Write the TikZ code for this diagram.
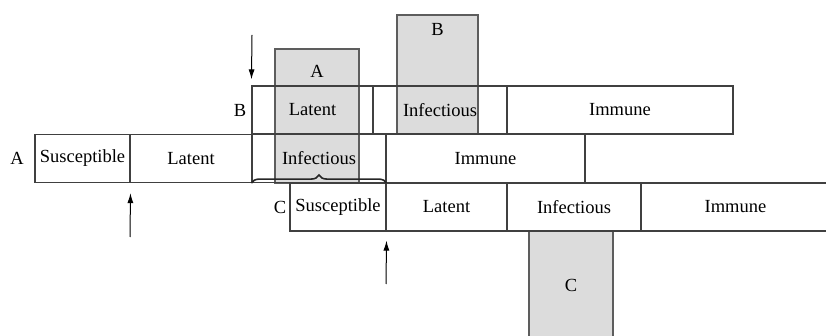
\documentclass[tikz,border=0pt]{standalone}
\usepackage{fontspec}
\setmainfont{Liberation Serif}
\usetikzlibrary{arrows.meta,positioning,calc,decorations.pathreplacing}
\definecolor{rule}{HTML}{404040}
\definecolor{shade}{HTML}{DCDCDC}

\begin{document}
\begin{tikzpicture}[
  x=1pt, y=-1pt,
  stage/.style={draw=rule, line width=1.2pt, inner sep=0pt, minimum height=48pt, font=\fontsize{18.5}{20}\selectfont},
  window/.style={draw=rule!85, fill=shade, line width=1.2pt, inner sep=0pt},
  tag/.style={font=\fontsize{18.5}{20}\selectfont, inner sep=0pt},
  arr/.style={-{Latex[length=10pt,width=6pt]}, line width=1pt, draw=black}
]
\useasboundingbox (0,0) rectangle (826,336);

% shaded windows behind the rows
\node[window, minimum width=84pt, minimum height=134pt] (winA) at (317,116) {};
\node[window, minimum width=81pt, minimum height=119pt] (winB) at (437.5,74.5) {};
\node[window, minimum width=84pt, minimum height=109pt] (winC) at (571,285.5) {};
\node[tag] (capA) at (317,71) {A};
\node[tag] (capB) at (437.5,29) {B};
\node[tag] (capC) at (571,285) {C};

% row A
\node[stage, minimum width=95pt]  (aSus) at (82.5,158.5) {Susceptible};
\node[stage, minimum width=122pt] (aLat) at (191,158.5) {Latent};
\node[stage, minimum width=134pt] (aInf) at (319,158.5) {Infectious};
\node[stage, minimum width=199pt] (aImm) at (485.5,158.5) {Immune};
\node[tag] (nameA) at (17,158) {A};

% row B
\node[stage, minimum width=121pt] (bLat) at (312.5,110) {Latent};
\node[stage, minimum width=134pt] (bInf) at (440,110) {Infectious};
\node[stage, minimum width=226pt] (bImm) at (620,110) {Immune};
\node[tag] (nameB) at (240,110) {B};

% row C
\node[stage, minimum width=96pt]  (cSus) at (338,207) {Susceptible};
\node[stage, minimum width=121pt] (cLat) at (446.5,207) {Latent};
\node[stage, minimum width=134pt] (cInf) at (574,207) {Infectious};
\node[stage, minimum width=189pt] (cImm) at (735.5,207) {Immune};
\node[tag] (nameC) at (280,207) {C};

\draw[black!85, line width=1.6pt, decorate, decoration={brace, amplitude=8pt}]
  (aInf.south west) -- (aInf.south east);

\coordinate (dropB) at (252,35);
\coordinate (riseA) at (130,237);
\coordinate (riseC) at (386,284);
\draw[arr, shorten >=6pt] (dropB) -- (bLat.north west);
\draw[arr, shorten >=10pt] (riseA) -- (aSus.south east);
\draw[arr, shorten >=9pt] (riseC) -- (cSus.south east);
\end{tikzpicture}
\end{document}
